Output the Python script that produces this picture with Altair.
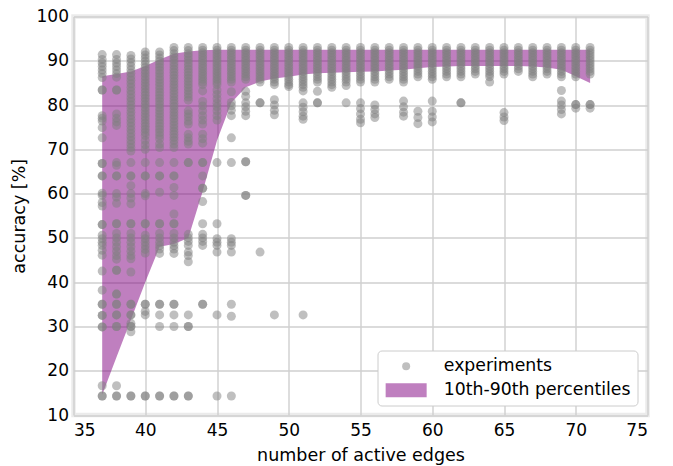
import altair as alt
import pandas as pd

# ---------------- data ----------------
edges = list(range(37, 72))

accuracy = [
    # 37
    [91.4, 90.3, 89.5, 88.7, 87.9, 87.1, 86.2, 83.4, 83.4, 77.6, 77.0, 76.4, 74.9, 72.6,
     66.8, 66.8, 64.0, 64.0, 60.1, 59.6, 58.0, 57.2, 53.0, 53.0, 50.6, 49.8, 49.0, 48.3,
     47.2, 46.1, 42.5, 38.2, 35.0, 35.0, 32.5, 32.5, 29.9, 29.9, 16.6, 14.3, 14.3],
    # 38
    [91.4, 90.3, 89.5, 88.7, 87.9, 87.1, 86.3, 83.4, 83.4, 78.0, 77.0, 76.2, 75.4, 67.0,
     66.4, 64.0, 64.0, 60.0, 59.2, 57.8, 53.2, 53.2, 51.0, 50.0, 49.0, 48.0, 47.0, 46.0,
     45.2, 42.7, 42.7, 37.3, 37.3, 35.0, 35.0, 32.6, 32.6, 30.0, 30.0, 16.6, 14.3, 14.3],
    # 39
    [91.2, 90.4, 89.6, 88.8, 88.0, 87.2, 86.4, 85.6, 84.8, 84.0, 83.2, 82.4, 81.6, 80.8,
     80.0, 79.2, 78.4, 77.6, 76.8, 76.0, 75.2, 74.4, 73.6, 72.8, 72.0, 71.2, 70.4, 69.6,
     67.0, 64.0, 64.0, 61.8, 60.0, 59.0, 57.7, 53.2, 53.2, 51.0, 50.0, 49.0, 48.0, 47.0,
     46.0, 45.3, 42.3, 35.0, 35.0, 32.6, 32.6, 30.7, 30.0, 30.0, 28.8, 14.3, 14.3],
    # 40
    [92.0, 91.3, 90.6, 89.9, 89.2, 88.5, 87.8, 87.1, 86.4, 85.7, 85.0, 84.3, 83.6, 82.9,
     82.2, 81.5, 80.8, 80.1, 79.4, 78.7, 78.0, 77.3, 76.6, 75.9, 75.2, 74.5, 73.8, 73.1,
     72.0, 71.0, 70.0, 67.0, 64.0, 64.0, 60.0, 59.5, 53.2, 53.2, 50.6, 49.8, 49.0, 48.2,
     47.4, 46.6, 35.0, 35.0, 33.4, 32.6, 14.3, 14.3],
    # 41
    [92.0, 91.3, 90.6, 89.9, 89.2, 88.5, 87.8, 87.1, 86.4, 85.7, 85.0, 84.3, 83.6, 82.9,
     82.2, 81.5, 80.8, 80.1, 79.4, 78.7, 78.0, 77.3, 76.6, 75.9, 75.2, 74.5, 73.8, 73.1,
     72.4, 71.2, 70.4, 67.0, 64.0, 64.0, 60.3, 53.2, 53.2, 51.0, 50.0, 49.0, 48.2, 47.5,
     46.5, 35.0, 35.0, 32.6, 30.0, 14.3, 14.3],
    # 42
    [93.0, 92.3, 91.6, 90.9, 90.2, 89.5, 88.8, 88.1, 87.4, 86.7, 86.0, 85.3, 84.6, 83.9,
     83.2, 82.5, 81.8, 81.1, 80.4, 79.7, 79.0, 78.3, 77.6, 76.9, 76.2, 75.5, 74.8, 74.1,
     73.4, 72.7, 72.0, 71.2, 70.4, 67.0, 64.0, 64.0, 61.4, 59.6, 55.4, 53.2, 53.2, 51.0,
     50.0, 49.0, 48.2, 47.5, 46.5, 35.0, 35.0, 32.6, 30.0, 14.3, 14.3],
    # 43
    [93.0, 92.3, 91.6, 90.9, 90.2, 89.5, 88.8, 88.1, 87.4, 86.7, 86.0, 85.3, 84.6, 83.9,
     83.2, 82.5, 81.8, 81.1, 78.7, 78.0, 77.3, 76.4, 75.7, 73.4, 72.6, 71.8, 71.2, 67.0,
     67.0, 50.8, 50.0, 49.2, 48.3, 46.8, 46.0, 44.6, 32.6, 30.0, 30.0, 14.3, 14.3],
    # 44
    [93.0, 92.4, 91.8, 91.2, 90.6, 90.0, 89.4, 88.8, 88.2, 87.6, 87.0, 86.4, 85.8, 85.2,
     84.6, 83.2, 80.8, 79.8, 78.7, 77.6, 76.6, 75.7, 73.4, 72.4, 71.4, 67.0, 67.0, 64.0,
     61.2, 61.2, 58.2, 53.2, 50.8, 50.0, 49.2, 48.3, 35.0, 35.0],
    # 45
    [93.0, 92.4, 91.8, 91.2, 90.6, 90.0, 89.4, 88.8, 88.2, 87.6, 87.0, 86.4, 85.8, 85.2,
     84.6, 83.4, 82.4, 81.4, 80.4, 79.6, 78.7, 77.6, 76.6, 67.0, 53.2, 49.8, 49.0, 48.3,
     46.8, 32.6, 14.3],
    # 46
    [93.0, 92.4, 91.8, 91.2, 90.6, 90.0, 89.4, 88.8, 88.2, 87.6, 87.0, 86.4, 85.8, 85.2,
     83.0, 80.6, 79.8, 78.8, 77.6, 72.6, 67.0, 49.8, 49.0, 48.3, 46.8, 35.0, 32.3, 14.3],
    # 47
    [93.0, 92.4, 91.8, 91.2, 90.6, 90.0, 89.4, 88.8, 88.2, 87.6, 87.0, 86.4, 85.8, 83.1,
     82.0, 80.5, 79.6, 78.6, 77.6, 67.2, 67.2, 59.6, 59.6],
    # 48
    [93.0, 92.4, 91.8, 91.2, 90.6, 90.0, 89.4, 88.8, 88.2, 87.6, 87.0, 86.4, 85.8, 85.2,
     80.5, 80.5, 46.8],
    # 49
    [93.0, 92.4, 91.8, 91.2, 90.6, 90.0, 89.4, 88.8, 88.2, 87.6, 87.0, 86.4, 85.8, 85.2,
     84.6, 81.2, 80.0, 78.8, 77.8, 32.6],
    # 50
    [93.0, 92.4, 91.8, 91.2, 90.6, 90.0, 89.4, 88.8, 88.2, 87.6, 87.0, 86.4, 85.8, 85.2,
     84.6, 84.2],
    # 51
    [93.0, 92.4, 91.8, 91.2, 90.6, 90.0, 89.4, 88.8, 88.2, 87.6, 87.0, 86.4, 85.8, 85.2,
     84.6, 84.0, 83.2, 80.5, 79.5, 78.5, 77.5, 76.8, 32.6],
    # 52
    [93.0, 92.4, 91.8, 91.2, 90.6, 90.0, 89.4, 88.8, 88.2, 87.6, 87.0, 86.4, 85.8, 85.2,
     83.1, 80.5, 80.5],
    # 53
    [93.0, 92.4, 91.8, 91.2, 90.6, 90.0, 89.4, 88.8, 88.2, 87.6, 87.0, 86.4, 85.8, 85.2,
     84.6, 84.0],
    # 54
    [93.0, 92.4, 91.8, 91.2, 90.6, 90.0, 89.4, 88.8, 88.2, 87.6, 87.0, 86.4, 85.8, 85.2,
     84.4, 80.5],
    # 55
    [93.0, 92.4, 91.8, 91.2, 90.6, 90.0, 89.4, 88.8, 88.2, 87.6, 87.0, 86.4, 85.8, 85.2,
     80.5, 79.2, 78.0, 76.8, 76.0],
    # 56
    [93.0, 92.4, 91.8, 91.2, 90.6, 90.0, 89.4, 88.8, 88.2, 87.6, 87.0, 86.4, 85.8, 85.2,
     80.0, 79.0, 78.0, 77.2],
    # 57
    [93.0, 92.4, 91.8, 91.2, 90.6, 90.0, 89.4, 88.8, 88.2, 87.6, 87.0, 86.4, 85.8],
    # 58
    [93.0, 92.4, 91.8, 91.2, 90.6, 90.0, 89.4, 88.8, 88.2, 87.6, 87.0, 86.4, 85.8, 85.2,
     80.9, 79.6, 78.4, 77.5],
    # 59
    [93.0, 92.4, 91.8, 91.2, 90.6, 90.0, 89.4, 88.8, 88.2, 87.6, 87.0, 86.4, 78.6, 77.2,
     75.8],
    # 60
    [93.0, 92.4, 91.8, 91.2, 90.6, 90.0, 89.4, 88.8, 88.2, 87.6, 87.0, 86.4, 85.8, 80.9,
     78.6, 77.3, 76.2],
    # 61
    [93.0, 92.4, 91.8, 91.2, 90.6, 90.0, 89.4, 88.8, 88.2, 87.6, 87.0, 86.4],
    # 62
    [93.0, 92.4, 91.8, 91.2, 90.6, 90.0, 89.4, 88.8, 88.2, 87.6, 87.0, 86.4, 80.5, 80.5],
    # 63
    [93.0, 92.4, 91.8, 91.2, 90.6, 90.0, 89.4, 88.8, 88.2, 87.6, 87.0],
    # 64
    [93.0, 92.4, 91.8, 91.2, 90.6, 90.0, 89.4, 88.8, 88.2, 87.6, 87.0, 86.4, 85.2],
    # 65
    [93.0, 92.4, 91.8, 91.2, 90.6, 90.0, 89.4, 88.8, 88.2, 87.6, 87.0, 78.3, 77.3, 76.5],
    # 66
    [93.0, 92.4, 91.8, 91.2, 90.6, 90.0, 89.4, 88.8, 88.2, 87.6],
    # 67
    [93.0, 92.4, 91.8, 91.2, 90.6, 90.0, 89.4, 88.8, 88.2, 87.6, 87.0, 86.4],
    # 68
    [93.0, 92.4, 91.8, 91.2, 90.6, 90.0, 89.4, 88.8, 88.2, 87.6, 87.0],
    # 69
    [93.0, 92.4, 91.8, 91.2, 90.6, 90.0, 89.4, 88.8, 88.2, 87.6, 87.0, 86.4, 83.3, 80.9,
     80.0, 79.0, 78.0],
    # 70
    [93.0, 92.4, 91.8, 91.2, 90.6, 90.0, 89.4, 88.8, 88.2, 87.6, 87.0, 86.4, 80.1, 80.1,
     79.3],
    # 71
    [93.0, 92.4, 91.8, 91.2, 90.6, 90.0, 89.4, 88.8, 88.2, 87.6, 87.0, 80.1, 80.1, 79.3],
]

p10 = [14.6, 23.1, 31.5, 40.0, 48.0, 48.6, 50.0, 60.5, 72.0, 80.5, 84.0, 85.3, 86.0, 86.4,
       86.9, 87.2, 87.3, 87.4, 87.5, 87.6, 87.8, 88.0, 88.3, 88.6, 88.7, 88.8, 88.8, 88.8,
       88.8, 88.8, 88.7, 88.5, 88.0, 86.5, 85.0]
p90 = [86.5, 87.0, 87.6, 88.8, 90.3, 91.6, 92.1, 92.4, 92.5, 92.5, 92.5, 92.5, 92.5, 92.5,
       92.5, 92.5, 92.5, 92.5, 92.5, 92.5, 92.5, 92.5, 92.5, 92.5, 92.5, 92.5, 92.5, 92.5,
       92.5, 92.5, 92.5, 92.5, 92.5, 92.5, 92.5]

series_names = ["experiments", "10th-90th percentiles"]
x_ticks = [35, 40, 45, 50, 55, 60, 65, 70, 75]
y_ticks = [10, 20, 30, 40, 50, 60, 70, 80, 90, 100]

# ---------------- tables ----------------
pts_rows = []
for e, vals in zip(edges, accuracy):
    for v in vals:
        pts_rows.append({"edges": e, "acc": v, "series": series_names[0]})
df_pts = pd.DataFrame(pts_rows)
df_band = pd.DataFrame({"edges": edges, "lo": p10, "hi": p90,
                        "series": series_names[1]})

FONT = "DejaVu Sans"
rect_path = "M-5.125,-1.75L5.125,-1.75L5.125,1.75L-5.125,1.75Z"

color_scale = alt.Scale(domain=series_names, range=["#808080", "#800080"])
shape_scale = alt.Scale(domain=series_names, range=["circle", rect_path])

legend = alt.Legend(
    title=None, orient="bottom-right", offset=10,
    symbolSize=64, symbolOpacity=0.5, symbolStrokeWidth=0,
    symbolOffset=13, labelOffset=29, labelLimit=0,
    labelFontSize=17.3, labelFont=FONT, labelColor="black",
    padding=7, rowPadding=6,
    strokeColor="#cccccc", fillColor="white", cornerRadius=4,
)

x_enc = alt.X("edges:Q", scale=alt.Scale(domain=[35, 75], nice=False, zero=False),
              axis=alt.Axis(values=x_ticks, title="number of active edges",
                            labelPadding=7, titlePadding=8))
y_enc = alt.Y("lo:Q", scale=alt.Scale(domain=[10, 100], nice=False, zero=False),
              axis=alt.Axis(values=y_ticks, title="accuracy [%]",
                            labelPadding=5, titlePadding=8))

band = alt.Chart(df_band).mark_area(opacity=0.5).encode(
    x=x_enc,
    y=y_enc,
    y2="hi:Q",
    color=alt.Color("series:N", scale=color_scale, legend=legend),
)

points = alt.Chart(df_pts).mark_point(filled=True, size=81, opacity=0.5).encode(
    x=alt.X("edges:Q"),
    y=alt.Y("acc:Q"),
    color=alt.Color("series:N", scale=color_scale, legend=legend),
    shape=alt.Shape("series:N", scale=shape_scale, legend=legend),
)

chart = alt.layer(band, points).properties(
    width=574, height=398.5,
    autosize=alt.AutoSizeParams(type="none"),
    padding={"left": 65.5, "top": 8.5, "right": 17, "bottom": 51},
).configure_axis(
    labelFont=FONT, titleFont=FONT, labelFontSize=17, titleFontSize=17.5,
    labelColor="black", titleColor="black", titleFontWeight="normal",
    ticks=False, domain=False, gridColor="#cfcfcf", gridWidth=1.4,
).configure_view(
    stroke="#ebebeb", strokeWidth=4.5,
)

chart.save("out.html", embed_options={"renderer": "svg", "actions": False})
